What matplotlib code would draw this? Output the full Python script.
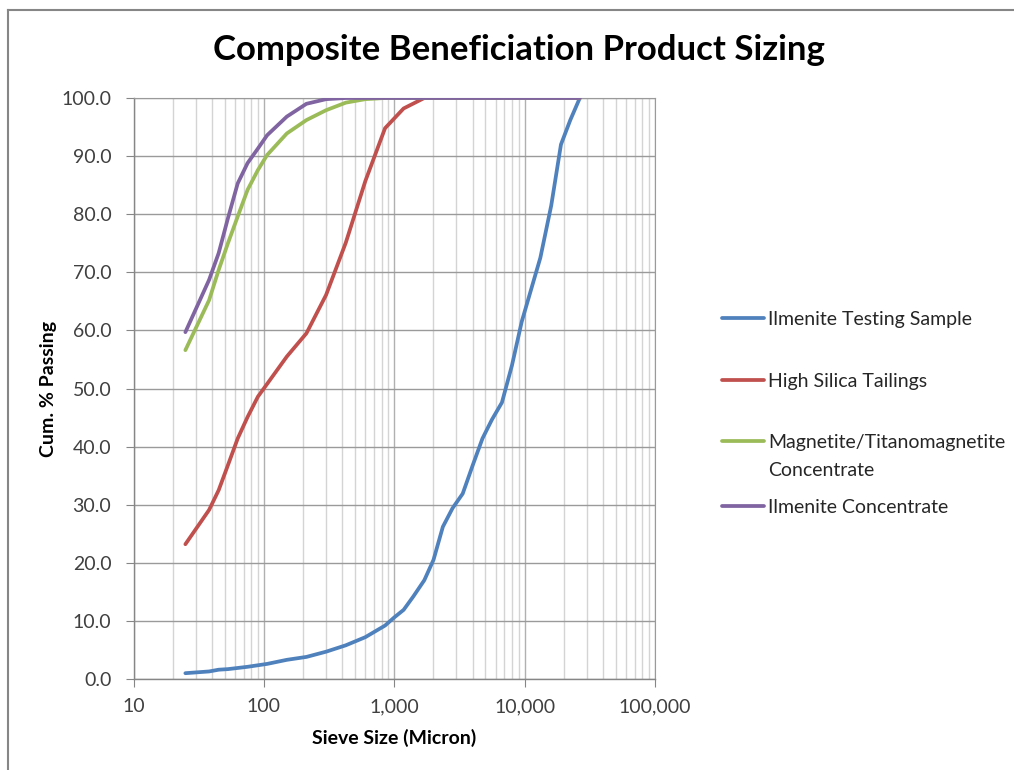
import matplotlib.pyplot as plt
from matplotlib.lines import Line2D
from matplotlib.ticker import FixedLocator, LogLocator, FuncFormatter, NullFormatter

plt.rcParams['font.family'] = ['Lato', 'DejaVu Sans']

# sieve sizes (micron) and cumulative % passing
size_test = [25, 38, 45, 53, 75, 106, 150, 212, 300, 425, 600, 850, 1000, 1180,
             1400, 1700, 2000, 2360, 2800, 3350, 4000, 4750, 5600, 6700, 8000,
             9500, 13200, 16000, 19000, 22400, 26500]
pass_test = [1.0, 1.3, 1.6, 1.7, 2.1, 2.6, 3.3, 3.8, 4.7, 5.8, 7.2, 9.2, 10.6, 11.9,
             14.2, 17.0, 20.5, 26.2, 29.4, 31.9, 36.8, 41.4, 44.6, 47.6, 54.0,
             61.5, 72.5, 81.5, 92.0, 96.2, 100.0]

size_silica = [25, 38, 45, 53, 63, 75, 90, 106, 150, 212, 300, 425, 600, 850,
               1180, 1700, 26500]
pass_silica = [23.2, 29.1, 32.5, 36.8, 41.4, 45.1, 48.6, 50.8, 55.5, 59.5, 66.1,
               75.1, 85.7, 94.8, 98.2, 100.0, 100.0]

size_magn = [25, 38, 45, 53, 63, 75, 90, 106, 150, 212, 300, 425, 600, 850, 26500]
pass_magn = [56.6, 65.2, 70.4, 75.0, 79.6, 84.2, 87.6, 90.2, 93.9, 96.2, 97.9,
             99.2, 99.8, 100.0, 100.0]

size_ilm = [25, 38, 45, 53, 63, 75, 90, 106, 150, 212, 300, 425, 26500]
pass_ilm = [59.7, 68.7, 73.3, 79.3, 85.3, 88.8, 91.3, 93.6, 96.8, 99.0, 99.8,
            100.0, 100.0]

names = ["Ilmenite Testing Sample", "High Silica Tailings",
         "Magnetite/Titanomagnetite\nConcentrate", "Ilmenite Concentrate"]
colors = ["#4F81BD", "#C0504D", "#9BBB59", "#8064A2"]
series = [(size_test, pass_test), (size_silica, pass_silica),
          (size_magn, pass_magn), (size_ilm, pass_ilm)]

W, H = 1014, 770
fig = plt.figure(figsize=(W / 100, H / 100), dpi=100)

# chart area border (top and left edges only visible)
fig.add_artist(Line2D([8 / W, 1], [1 - 10 / H, 1 - 10 / H], color="#868686", lw=1.5))
fig.add_artist(Line2D([8 / W, 8 / W], [0, 1 - 10 / H], color="#868686", lw=1.5))

ax = fig.add_axes([133.5 / W, 1 - 679 / H, (655 - 133.5) / W, (679 - 98) / H])
ax.set_xscale('log')
ax.set_xlim(10, 100000)
ax.set_ylim(0, 100)

for (xs, ys), c in zip(series, colors):
    ax.plot(xs, ys, color=c, lw=2.7, solid_capstyle='round',
            solid_joinstyle='round', zorder=3)

ax.yaxis.set_major_locator(FixedLocator(range(0, 101, 10)))
ax.yaxis.set_major_formatter(FuncFormatter(lambda v, p: f"{v:.1f}"))
ax.xaxis.set_major_locator(FixedLocator([10, 100, 1000, 10000, 100000]))
ax.xaxis.set_major_formatter(FuncFormatter(lambda v, p: f"{v:,.0f}"))
ax.xaxis.set_minor_locator(LogLocator(base=10, subs=range(2, 10)))
ax.xaxis.set_minor_formatter(NullFormatter())

ax.grid(True, which='major', axis='y', color="#9a9a9a", lw=1.0)
ax.grid(True, which='major', axis='x', color="#b0b0b0", lw=1.0)
ax.grid(True, which='minor', axis='x', color="#d4d4d4", lw=1.0)
ax.set_axisbelow(True)

for s in ['top', 'right']:
    ax.spines[s].set_color("#9a9a9a")
for s in ['left', 'bottom']:
    ax.spines[s].set_color("#868686")
    ax.spines[s].set_linewidth(1.0)

ax.tick_params(axis='both', which='major', direction='out', length=6,
               color="#868686", labelsize=14, labelcolor="#404040")
ax.tick_params(axis='x', which='minor', length=0)
ax.tick_params(axis='y', pad=10)
ax.tick_params(axis='x', pad=8)

ax.set_xlabel("Sieve Size (Micron)", fontsize=14, fontweight='bold', labelpad=10)
ax.set_ylabel("Cum. % Passing", fontsize=14, fontweight='bold', labelpad=3)

fig.text(519 / W, 1 - 50 / H, "Composite Beneficiation Product Sizing",
         fontsize=25, fontweight='bold', ha='center', va='center')

# legend drawn by hand so the wrapped entry aligns with its first line
leg_y = [318, 380, 441, 506]
for name, c, y in zip(names, colors, leg_y):
    fig.add_artist(Line2D([722 / W, 764 / W], [1 - y / H, 1 - y / H], color=c, lw=2.7,
                          solid_capstyle='round'))
    fig.text(768 / W, 1 - (y - 7) / H, name, fontsize=14, color="#262626",
             ha='left', va='top', linespacing=1.75)

fig.savefig("out.png", dpi=100)
